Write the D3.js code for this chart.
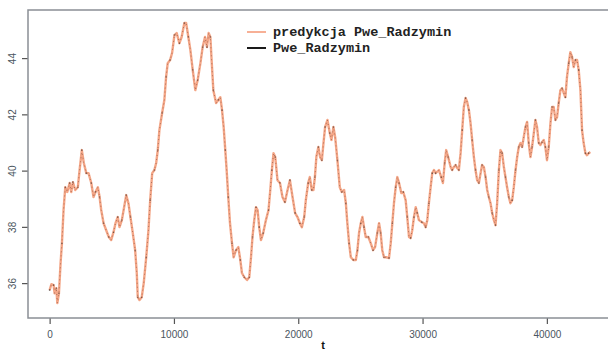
<!DOCTYPE html>
<html><head><meta charset="utf-8">
<script src="https://cdn.jsdelivr.net/npm/d3@7"></script>
<style>html,body{margin:0;padding:0;background:#fff;overflow:hidden}svg{display:block}</style>
</head><body><svg id="c" width="608" height="352"></svg>
<script>
// time index (t)
const tValues = [0,140,320,400,540,620,750,880,990,1120,1260,1420,1610,1740,1870,2060,2270,2410,2590,2750,2950,3130,3350,3530,3690,3880,4020,4150,4340,4550,4760,4950,5140,5300,5480,5620,5810,6020,6160,6340,6500,6690,6880,7010,7090,7230,7410,7570,7770,7950,8090,8250,8430,8570,8700,8830,9050,9230,9370,9500,9690,
9850,10040,10220,10440,10620,10840,10980,11160,11320,11510,11720,11910,12130,12310,12500,12660,12790,12930,13030,13170,13390,13570,13730,13870,14000,14130,14240,14370,14510,14670,14800,14990,15180,15340,15470,15660,15880,16060,16200,16320,16460,16600,16730,16860,17000,17180,17400,17610,17750,17880,18010,18150,18330,18530,18730,18930,19140,19330,19540,19750,19940,20130,20290,20480,20610,20800,20930,21090,21220,21340,21460,21620,
21760,21900,22030,22160,22350,22540,22670,22830,22970,23150,23340,23500,23690,23830,23950,24090,24230,24430,24630,24760,24890,25030,25160,25290,25430,25640,25830,26020,26180,26360,26500,26630,26760,26900,27080,27300,27440,27570,27700,27840,27970,28110,28290,28450,28640,28770,28910,29040,29170,29310,29450,29570,29710,29930,30110,30250,30380,30510,30650,30780,30920,31050,31320,31500,31640,31780,31900,32060,
32260,32380,32520,32660,32790,32920,33060,33190,33320,33460,33590,33730,33860,33990,34130,34260,34390,34530,34670,34790,34930,35070,35200,35330,35470,35600,35740,35870,36000,36140,36270,36400,36540,36670,36800,36940,37070,37210,37340,37480,37610,37740,37880,38010,38140,38280,38410,38540,38680,38810,38950,39080,39210,39350,39480,39610,39750,39880,40010,40150,40290,40420,40550,40690,40820,40950,41090,41220,41360,41490,41620,41760,41890,42030,42160,42300,42430,42560,42700,42830,42960,43100,43230,43360,43500];
// Pwe_Radzymin (observed); the prediction overlays it almost exactly
const pweRadzymin = [35.75,35.96,35.93,35.64,35.82,35.29,35.64,36.71,37.42,38.60,39.41,39.24,39.56,39.24,39.59,39.31,39.41,40.02,40.73,40.27,39.91,39.91,39.56,39.06,39.24,39.41,39.06,38.60,38.13,37.88,37.64,37.53,37.81,38.13,38.35,37.99,38.24,38.77,39.13,38.84,38.35,37.78,37.17,36.36,35.50,35.40,35.50,36.00,36.92,37.88,38.95,39.91,40.02,40.27,40.73,41.44,42.05,42.51,43.33,43.82,43.93,
44.18,44.82,44.89,44.53,44.75,45.25,45.25,44.75,44.29,43.58,42.86,43.22,43.82,44.39,44.75,44.39,44.89,44.75,43.93,42.86,42.40,42.51,42.61,42.15,41.55,40.73,40.02,39.06,38.13,37.42,36.92,37.17,37.28,36.82,36.36,36.21,36.11,36.21,36.92,37.64,38.24,38.70,38.60,37.99,37.53,37.78,38.24,38.60,39.31,40.02,40.62,40.48,39.66,39.56,39.06,38.88,39.31,39.66,39.06,38.49,38.35,38.13,37.99,38.35,38.95,39.56,39.77,39.31,39.31,39.77,40.50,40.84,
40.48,40.37,40.98,41.55,41.80,41.33,41.09,41.55,41.19,40.37,39.41,39.24,39.31,38.84,38.13,37.42,36.92,36.82,36.82,37.17,37.78,38.13,38.35,37.99,37.64,37.64,37.42,37.17,37.28,37.78,38.13,37.78,37.17,36.92,36.92,36.89,37.42,38.13,38.84,39.41,39.77,39.56,39.20,39.24,38.95,38.35,37.64,37.60,37.88,38.35,38.70,38.49,38.24,38.17,38.13,37.99,38.24,38.84,39.41,39.91,40.02,39.91,40.02,39.77,39.56,40.27,40.73,40.48,
40.13,40.02,40.13,40.20,40.09,40.02,40.62,41.44,42.26,42.58,42.44,42.15,41.69,41.09,40.48,40.02,39.66,39.56,39.91,40.20,40.13,39.77,39.31,39.06,38.84,38.49,38.24,38.06,38.84,40.02,40.73,40.62,40.13,39.77,39.41,39.06,38.84,38.95,39.41,40.02,40.48,40.84,40.98,40.84,41.19,41.55,41.73,40.98,40.48,40.84,41.33,41.80,41.55,40.98,40.91,41.01,41.09,40.84,40.37,40.84,41.69,42.26,42.26,41.80,41.90,42.40,42.86,42.93,42.76,42.61,43.33,43.82,44.21,44.04,43.68,43.93,43.93,43.58,42.86,41.44,40.98,40.62,40.55,40.62,40.66];
const xTicks = [0,10000,20000,30000,40000];
const yTicks = [36,38,40,42,44];
const legendLabels = ["predykcja Pwe_Radzymin","Pwe_Radzymin"];
const seriesColors = ["#f29672","#1a1a1a"];

const data = tValues.map((t,i)=>({t, v: pweRadzymin[i]}));
const svg = d3.select("#c");
const L=28, R=612, T=10, B=318;
const x = d3.scaleLinear().domain([-1740,45240]).range([L,R]);
const y = d3.scaleLinear().domain([34.76,45.71]).range([B,T]);

// axes
const xa = svg.append("g").attr("transform",`translate(0,${B})`)
  .call(d3.axisBottom(x).tickValues(xTicks).tickSize(6).tickPadding(7).tickFormat(d3.format("d")));
const ya = svg.append("g").attr("transform",`translate(${L},0)`)
  .call(d3.axisLeft(y).tickValues(yTicks).tickSize(6).tickPadding(5).tickFormat(d3.format("d")));
[xa,ya].forEach(g=>{
  g.select(".domain").remove();
  g.selectAll(".tick line").attr("stroke","#555").attr("stroke-width",1.2);
  g.selectAll(".tick text").attr("fill","#4a5560").style("font-family","Liberation Sans, Arial, sans-serif").style("font-size","10px");
});
ya.selectAll(".tick text").each(function(){
  d3.select(this).attr("x",null).attr("text-anchor","middle")
    .attr("transform","translate(-16,0) rotate(-90)").attr("dy","0.35em");
});

// box
svg.append("rect").attr("x",L).attr("y",T).attr("width",R-L).attr("height",B-T)
  .attr("fill","none").attr("stroke","#8a8f95").attr("stroke-width",1.5);

// axis title
svg.append("text").attr("x",323).attr("y",349).attr("text-anchor","middle")
  .style("font-family","Liberation Sans, Arial, sans-serif").style("font-size","11px").style("font-weight","bold")
  .attr("fill","#111").text("t");

// prediction line (orange)
const line = d3.line().x(d=>x(d.t)).y(d=>y(d.v));
svg.append("path").datum(data).attr("d",line).attr("fill","none")
  .attr("stroke",seriesColors[0]).attr("stroke-width",2.4).attr("stroke-linejoin","round").attr("opacity",0.85);
// observed series (dark)
svg.append("path").datum(data).attr("d",line).attr("fill","none")
  .attr("stroke","#6b3a2a").attr("stroke-width",0.7).attr("stroke-dasharray","1,3").attr("opacity",0.7);
svg.append("g").selectAll("circle").data(data.filter((d,i)=>i%2===0)).join("circle")
  .attr("cx",d=>x(d.t)).attr("cy",d=>y(d.v)).attr("r",0.8).attr("fill","#3a2a25").attr("opacity",0.6);

// legend
const lg = svg.append("g");
legendLabels.forEach((lab,i)=>{
  const yy = 32 + i*16;
  lg.append("line").attr("x1",247).attr("x2",266).attr("y1",yy).attr("y2",yy)
    .attr("stroke", i===0 ? "#f7b096" : seriesColors[1]).attr("stroke-width",2);
  lg.append("text").attr("x",273).attr("y",yy+4).text(lab)
    .style("font-family","Liberation Mono, Courier New, monospace").style("font-size","13.5px").style("font-weight","bold")
    .attr("fill","#222");
});
</script></body></html>
